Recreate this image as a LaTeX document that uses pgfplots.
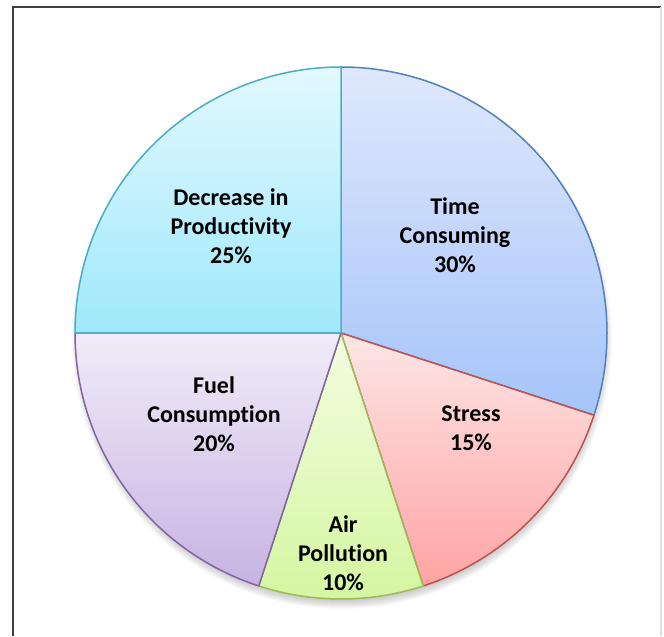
\documentclass[border=0pt]{standalone}
\usepackage{pgfplots}
\pgfplotsset{compat=1.18}
\usepackage{pgfplotstable}
\usepackage{fontspec}
\setmainfont{Carlito}[Ligatures={NoCommon,NoContextual}]

\definecolor{pieTop0}{HTML}{DFE8FC}\definecolor{pieBot0}{HTML}{A5C4FA}\definecolor{pieLine0}{HTML}{4F81BD}
\definecolor{pieTop1}{HTML}{FDE6E6}\definecolor{pieBot1}{HTML}{FFA3A3}\definecolor{pieLine1}{HTML}{C0504D}
\definecolor{pieTop2}{HTML}{F3FDE0}\definecolor{pieBot2}{HTML}{D4F6A0}\definecolor{pieLine2}{HTML}{9BBB59}
\definecolor{pieTop3}{HTML}{F1ECF8}\definecolor{pieBot3}{HTML}{C7B3E3}\definecolor{pieLine3}{HTML}{8064A2}
\definecolor{pieTop4}{HTML}{E2F9FE}\definecolor{pieBot4}{HTML}{9FE8FB}\definecolor{pieLine4}{HTML}{4BACC6}

% share of each slice, clockwise from 12 o'clock
\pgfplotstableread{
label value
Time 30
Stress 15
Air 10
Fuel 20
Decrease 25
}\pietable

\begin{document}
\begin{tikzpicture}
\begin{axis}[
  x=0.5pt, y=0.5pt,
  xmin=0, xmax=664, ymin=0, ymax=636,
  hide axis, clip=false,
]
% picture extent
\path (axis cs:0,0) rectangle (axis cs:664,636);
% frame
\draw[color=black!75, line width=1pt] (axis cs:13,0) -- (axis cs:13,629) -- (axis cs:661,629);
\draw[color=black!13, line width=0.7pt] (axis cs:661,629) -- (axis cs:661,0);
% soft shadow
\pgfplotsforeachungrouped \k in {0,...,8}{%
  \edef\cmd{\noexpand\fill[black, opacity=0.025] (axis cs:342,297) circle[radius=\the\numexpr 262+\k\relax*0.5pt];}\cmd
}
% slices
\def\startang{90}
\pgfplotsforeachungrouped \i in {0,...,4}{%
  \pgfplotstablegetelem{\i}{value}\of\pietable
  \pgfmathsetmacro\endang{\startang-3.6*\pgfplotsretval}
  \edef\cmd{\noexpand\filldraw[top color=pieTop\i, bottom color=pieBot\i, draw=pieLine\i, line width=0.75pt, line join=round]
    (axis cs:341,303) -- ++(\startang:133pt) arc[start angle=\startang, end angle=\endang, radius=133pt] -- cycle;}\cmd
  \global\let\startang\endang
}
% labels
\tikzset{pl/.style={align=center, font=\fontsize{12}{14.5}\selectfont\bfseries, text=black}}
\node[pl] at (axis cs:455,401) {Time\\Consuming\\30\%};
\node[pl] at (axis cs:471,208) {Stress\\15\%};
\node[pl] at (axis cs:343,83) {Air\\Pollution\\10\%};
\node[pl] at (axis cs:214,222) {Fuel\\Consumption\\20\%};
\node[pl] at (axis cs:231,410) {Decrease in\\Productivity\\25\%};
\end{axis}
\end{tikzpicture}
\end{document}
